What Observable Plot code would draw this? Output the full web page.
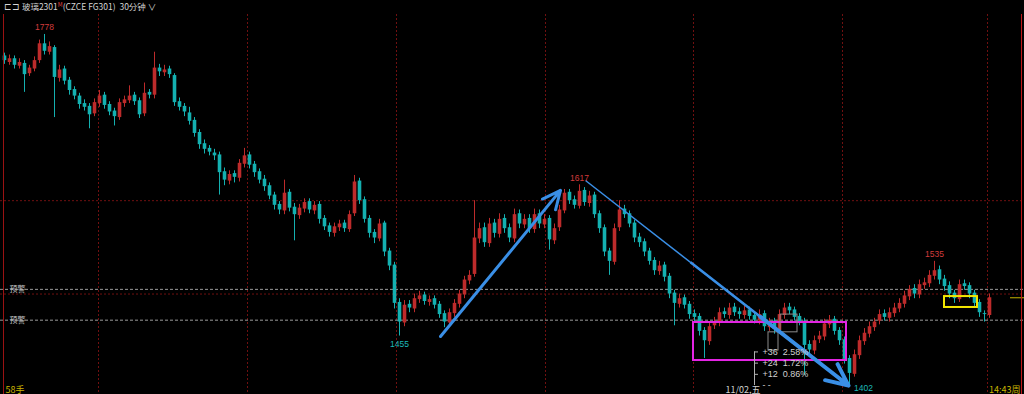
<!DOCTYPE html>
<html><head><meta charset="utf-8">
<script src="https://cdn.jsdelivr.net/npm/d3@7"></script>
<script src="https://cdn.jsdelivr.net/npm/@observablehq/plot@0.6"></script>
<style>
html,body{margin:0;padding:0;background:#000;width:1024px;height:394px;overflow:hidden;}
#hdr{height:14px;line-height:14px;font:8.5px "Noto Sans CJK SC",sans-serif;color:#d4d4d4;padding-left:4px;white-space:pre;}
#hdr sup{font-size:6px;color:#e04040;vertical-align:3px;}
#wrap{position:relative;width:1024px;height:380px;}
#edges{position:absolute;left:3px;top:0;width:1017px;height:380px;border-left:1px solid #9a1212;border-right:1px solid #c01818;pointer-events:none;}
</style></head><body>
<div id="hdr">⊏⊐ 玻璃2301<sup>M</sup>(CZCE FG301)  30分钟 ∨</div>
<div id="wrap"><div id="chart"></div><div id="edges"></div></div>
<script>
const opens = [
1755,1748,1752,1744,1747,1736,1741,1750,1768,1759,
1764,1731,1741,1729,1719,1712,1704,1701,1693,1704,
1713,1703,1696,1689,1704,1707,1713,1707,1693,1716,
1713,1742,1737,1741,1734,1706,1701,1694,1686,1673,
1661,1656,1651,1649,1631,1621,1629,1624,1639,1649,
1639,1631,1623,1616,1606,1596,1589,1609,1593,1584,
1591,1599,1589,1596,1581,1573,1565,1571,1576,1569,
1586,1621,1601,1581,1566,1559,1576,1546,1531,1491,
1469,1489,1484,1494,1499,1491,1495,1489,1479,1469,
1479,1489,1499,1514,1521,1559,1571,1554,1576,1564,
1581,1571,1559,1586,1574,1581,1569,1586,1574,1581,
1557,1571,1589,1609,1601,1594,1611,1597,1606,1586,
1571,1546,1534,1571,1591,1586,1576,1561,1556,1546,
1536,1524,1531,1519,1501,1489,1496,1489,1479,1476,
1461,1449,1466,1469,1481,1477,1486,1481,1477,1483,
1477,1471,1479,1464,1471,1461,1477,1486,1483,1476,
1471,1446,1439,1451,1454,1467,1473,1461,1451,1431,
1414,1434,1449,1457,1464,1471,1479,1474,1479,1484,
1489,1497,1506,1499,1509,1511,1519,1526,1516,1509,
1501,1494,1511,1509,1501,1491,1479,1477];
const closes = [
1750,1752,1745,1748,1735,1742,1750,1768,1760,1765,
1732,1740,1728,1718,1712,1703,1700,1692,1705,1712,
1702,1695,1690,1705,1708,1712,1706,1692,1715,1713,
1742,1738,1740,1735,1705,1700,1695,1685,1672,1660,
1655,1652,1648,1630,1622,1628,1625,1640,1648,1638,
1630,1622,1615,1605,1595,1590,1608,1592,1585,1592,
1598,1590,1595,1580,1572,1566,1572,1575,1570,1585,
1620,1600,1580,1565,1560,1575,1545,1530,1490,1470,
1488,1485,1495,1498,1492,1494,1488,1478,1470,1480,
1490,1500,1515,1520,1560,1570,1555,1575,1565,1580,
1570,1560,1585,1575,1580,1570,1585,1575,1580,1558,
1570,1590,1608,1600,1595,1610,1598,1605,1585,1570,
1545,1535,1570,1590,1585,1575,1560,1555,1545,1535,
1525,1530,1518,1500,1490,1495,1488,1478,1475,1460,
1450,1465,1470,1480,1478,1485,1480,1478,1482,1476,
1472,1478,1465,1470,1462,1478,1485,1482,1475,1470,
1445,1440,1450,1455,1468,1472,1460,1450,1430,1415,
1435,1450,1458,1465,1470,1478,1475,1480,1485,1490,
1498,1505,1500,1510,1512,1520,1525,1515,1508,1500,
1495,1510,1508,1500,1490,1480,1478,1496];
const highs = [
1758,1756,1755,1752,1750,1745,1754,1772,1778,1770,
1766,1745,1744,1732,1722,1715,1708,1704,1709,1718,
1716,1706,1699,1709,1712,1723,1716,1710,1726,1719,
1759,1746,1745,1744,1736,1710,1704,1700,1689,1676,
1665,1659,1655,1652,1635,1632,1632,1644,1656,1652,
1642,1634,1627,1619,1609,1599,1622,1612,1597,1596,
1602,1602,1599,1599,1584,1576,1576,1579,1579,1589,
1627,1624,1604,1584,1569,1580,1578,1549,1534,1495,
1493,1493,1500,1503,1502,1498,1498,1492,1482,1484,
1494,1504,1519,1525,1600,1576,1576,1581,1580,1586,
1585,1575,1591,1590,1585,1585,1591,1590,1585,1584,
1575,1595,1612,1612,1605,1617,1614,1610,1609,1589,
1574,1549,1575,1600,1595,1589,1579,1565,1559,1549,
1539,1535,1534,1522,1504,1500,1499,1492,1483,1479,
1464,1470,1475,1485,1485,1490,1490,1485,1487,1486,
1480,1483,1482,1474,1474,1483,1490,1490,1486,1479,
1474,1450,1455,1460,1473,1477,1476,1464,1454,1434,
1440,1455,1463,1470,1474,1483,1483,1485,1490,1495,
1503,1509,1510,1515,1517,1525,1535,1530,1520,1513,
1504,1515,1515,1512,1504,1494,1482,1500];
const lows = [
1746,1745,1741,1741,1716,1733,1738,1747,1756,1756,
1689,1727,1724,1713,1708,1698,1696,1677,1690,1700,
1698,1691,1680,1686,1700,1704,1702,1688,1690,1709,
1709,1733,1733,1731,1701,1696,1690,1681,1668,1655,
1650,1648,1643,1606,1616,1617,1619,1620,1635,1634,
1625,1618,1610,1601,1590,1585,1585,1588,1557,1580,
1587,1586,1585,1575,1568,1561,1561,1567,1566,1566,
1583,1596,1576,1560,1554,1556,1540,1525,1484,1455,
1465,1480,1480,1490,1488,1487,1484,1474,1464,1466,
1475,1485,1495,1510,1518,1554,1550,1550,1560,1560,
1565,1555,1555,1570,1570,1565,1565,1570,1570,1547,
1553,1567,1586,1596,1591,1591,1594,1593,1581,1565,
1540,1520,1531,1567,1581,1571,1555,1550,1540,1531,
1520,1520,1513,1495,1466,1485,1484,1473,1470,1455,
1431,1445,1462,1465,1474,1473,1476,1473,1473,1472,
1468,1467,1460,1460,1457,1457,1473,1478,1471,1466,
1413,1435,1435,1447,1450,1463,1456,1445,1425,1402,
1411,1430,1445,1453,1460,1467,1471,1470,1475,1480,
1485,1493,1495,1495,1505,1507,1515,1510,1503,1495,
1490,1491,1504,1495,1485,1475,1470,1474];

// extreme price labels
const extremeIdx  = [8, 79, 115, 169, 186];
const extremeKind = ["high", "low", "high", "low", "high"];
// grid / alerts
const gridPrices = [1500, 1600];
const sessionBreaks = [18.8, 48.6, 78.4, 108.2, 137.8, 167.6, 196.6];
const alertPrices = [1505, 1472];
// drawn annotations (bar index, price)
const arrowUp = [{x1: 87.2, y1: 1454.5, x2: 111.2, y2: 1611}];
const arrowDown = [{x1: 116.2, y1: 1621.6, x2: 168.8, y2: 1402}];
const arrowDownMid = [{x1: 137.2, y1: 1534, x2: 168.8, y2: 1402}];
const arrowDownEnd = [{x1: 151.2, y1: 1475.5, x2: 168.8, y2: 1402}];
const magentaBox = [{x1: 137.8, x2: 168.4, y1: 1428.8, y2: 1469.5}];
const yellowBox = [{x1: 188.0, x2: 194.6, y1: 1485.6, y2: 1497.3}];
const grayBoxes = [{x1: 155.2, x2: 158.6, y1: 1459, y2: 1478}, {x1: 152.8, x2: 154.8, y1: 1439.5, y2: 1459}];
// measurement ruler
const measureBase = 1402;
const measureSteps = [36, 24, 12];
const measurePct = ["2.58%", "1.72%", "0.86%"];
const measureX = 150;
const dateLabel = "11/02,五";
const dateLabelX = 147.7;

const N = closes.length;
const candles = d3.range(N).map(i => ({i, o: opens[i], h: highs[i], l: lows[i], c: closes[i], dir: closes[i] >= opens[i] ? "up" : "down"}));
const extremes = extremeIdx.map((i, k) => ({i, kind: extremeKind[k], p: extremeKind[k] === "high" ? highs[i] : lows[i]}));
const measure = measureSteps.map((s, k) => ({p: measureBase + s, t: "+" + s + "  " + measurePct[k]}));
const RED = "#bd2b2b", CYAN = "#14b0b0", BLUE = "#3a8fe6";
const numFont = "Liberation Sans, Arial, sans-serif";
const lowAll = extremes.filter(d => d.kind === "low");
const lowMin = d3.min(lowAll, d => d.p);

const chart = Plot.plot({
  width: 1024, height: 380, margin: 0,
  style: {background: "#000", overflow: "visible"},
  x: {domain: [-0.8, 204], axis: null},
  y: {domain: [1392.4, 1799.4], axis: null},
  color: {domain: ["up", "down"], range: [RED, CYAN]},
  marks: [
    Plot.ruleY(gridPrices, {stroke: "#701010", strokeDasharray: "2,2"}),
    Plot.ruleX(sessionBreaks, {stroke: "#701010", strokeDasharray: "2,2"}),
    Plot.ruleY(alertPrices, {stroke: "#9a9a9a", strokeDasharray: "3,2"}),
    Plot.text(alertPrices, {y: d => d, text: () => "预警", frameAnchor: "left", dx: 9, textAnchor: "start", fill: "#c8c8c8", fontSize: 8, fontFamily: "Noto Sans CJK SC"}),
    Plot.ruleY([closes[N - 1]], {x1: 201.2, x2: 204, stroke: "#c8b400"}),
    Plot.ruleX(candles, {x: "i", y1: "l", y2: "h", stroke: "dir", strokeWidth: 1}),
    Plot.ruleX(candles, {x: "i", y1: "o", y2: "c", stroke: "dir", strokeWidth: 3.6}),
    Plot.rect(magentaBox, {x1: "x1", x2: "x2", y1: "y1", y2: "y2", fill: "none", stroke: "#e424e4", strokeWidth: 2}),
    Plot.rect(yellowBox, {x1: "x1", x2: "x2", y1: "y1", y2: "y2", fill: "none", stroke: "#f2e600", strokeWidth: 2}),
    Plot.rect(grayBoxes, {x1: "x1", x2: "x2", y1: "y1", y2: "y2", fill: "none", stroke: "#8a8a8a", strokeWidth: 1}),
    Plot.arrow(arrowUp, {x1: "x1", y1: "y1", x2: "x2", y2: "y2", stroke: BLUE, strokeWidth: 3, headLength: 10, headAngle: 50}),
    Plot.link(arrowDown, {x1: "x1", y1: "y1", x2: "x2", y2: "y2", stroke: BLUE, strokeWidth: 1.5}),
    Plot.link(arrowDownMid, {x1: "x1", y1: "y1", x2: "x2", y2: "y2", stroke: BLUE, strokeWidth: 2.5}),
    Plot.arrow(arrowDownEnd, {x1: "x1", y1: "y1", x2: "x2", y2: "y2", stroke: BLUE, strokeWidth: 4, headLength: 9, headAngle: 50}),
    Plot.text(extremes.filter(d => d.kind === "high"), {x: "i", y: "p", text: d => String(d.p), dy: -7, fill: "#d23c3c", fontSize: 8.5, fontFamily: numFont}),
    Plot.text(lowAll.filter(d => d.p !== lowMin), {x: "i", y: "p", text: d => String(d.p), dy: 8, fill: "#1cb8b8", fontSize: 8.5, fontFamily: numFont}),
    Plot.text(lowAll.filter(d => d.p === lowMin), {x: "i", y: "p", text: d => String(d.p), dy: 3, dx: 14, fill: "#1cb8b8", fontSize: 8.5, fontFamily: numFont}),
    Plot.ruleX([measureX], {y1: measureBase, y2: measureBase + measureSteps[0], stroke: "#b0b0b0"}),
    Plot.ruleY(measure, {y: "p", x1: measureX, x2: measureX + 0.8, stroke: "#b0b0b0"}),
    Plot.text(measure, {x: measureX + 1.6, y: "p", text: "t", textAnchor: "start", fill: "#d0d0d0", fontSize: 9, fontFamily: numFont}),
    Plot.text(["- -"], {x: measureX + 1.6, y: measureBase, text: d => d, textAnchor: "start", fill: "#d0d0d0", fontSize: 9}),
    Plot.text([dateLabel], {x: dateLabelX, text: d => d, frameAnchor: "bottom", dy: -2, fill: "#d0d0d0", fontSize: 9, fontFamily: "Noto Sans CJK SC"}),
    Plot.text(["58手"], {text: d => d, frameAnchor: "bottom-left", dx: 5, dy: -2, textAnchor: "start", fill: "#c8b400", fontSize: 9, fontFamily: "Noto Sans CJK SC"}),
    Plot.text(["14:43周"], {text: d => d, frameAnchor: "bottom-right", dx: -4, dy: -2, textAnchor: "end", fill: "#c8b400", fontSize: 9, fontFamily: "Noto Sans CJK SC"})
  ]
});
document.getElementById("chart").appendChild(chart);
</script>
</body></html>
